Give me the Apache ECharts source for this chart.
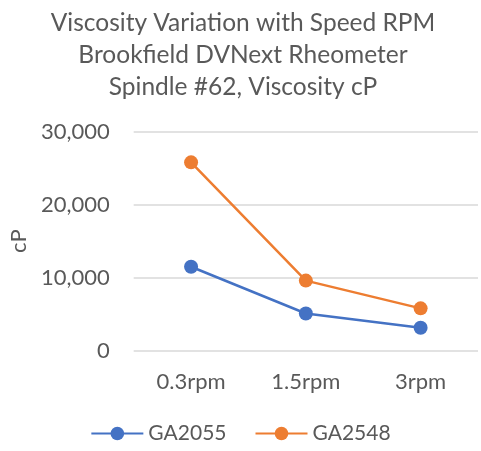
<!DOCTYPE html>
<html>
<head>
<meta charset="utf-8">
<script src="https://cdn.jsdelivr.net/npm/echarts@6/dist/echarts.min.js"></script>
<style>
  html, body { margin: 0; padding: 0; background: #fff; }
  #chart { width: 481px; height: 451px; }
</style>
</head>
<body>
<div id="chart"></div>
<script>
  // values
  const categories = ['0.3rpm', '1.5rpm', '3rpm'];
  const ga2055 = [11500, 5100, 3150];
  const ga2548 = [25800, 9600, 5800];
  const yTicks = [0, 10000, 20000, 30000];

  const textColor = '#595959';
  const font = 'Lato';

  const chart = echarts.init(document.getElementById('chart'));
  const option = {
    animation: false,
    title: {
      text: 'Viscosity Variation with Speed RPM\nBrookfield DVNext Rheometer\nSpindle #62, Viscosity cP',
      left: 238,
      textAlign: 'center',
      top: 2,
      textStyle: {
        color: textColor,
        fontFamily: font,
        fontWeight: 'normal',
        fontSize: 24.5,
        lineHeight: 32
      }
    },
    grid: {
      left: 132,
      right: 3,
      top: 131.7,
      bottom: 100.3
    },
    legend: {
      bottom: 2,
      left: 'center',
      itemWidth: 52,
      itemHeight: 17,
      itemGap: 28,
      textStyle: {
        color: textColor,
        fontFamily: font,
        fontSize: 21
      },
      data: ['GA2055', 'GA2548']
    },
    xAxis: {
      type: 'category',
      data: categories,
      axisLine: { show: false },
      axisTick: { show: false },
      axisLabel: {
        color: textColor,
        fontFamily: font,
        fontSize: 22,
        margin: 20
      }
    },
    yAxis: {
      type: 'value',
      min: yTicks[0],
      max: yTicks[yTicks.length - 1],
      interval: 10000,
      name: 'cP',
      nameLocation: 'middle',
      nameGap: 96,
      nameTextStyle: {
        color: textColor,
        fontFamily: font,
        fontSize: 22
      },
      axisLine: { show: false },
      axisTick: { show: false },
      splitLine: { lineStyle: { color: '#d9d9d9', width: 1.5 } },
      axisLabel: {
        color: textColor,
        fontFamily: font,
        fontSize: 22,
        margin: 24,
        formatter: function (v) { return v.toLocaleString('en-US'); }
      }
    },
    series: [
      {
        name: 'GA2055',
        type: 'line',
        data: ga2055,
        symbol: 'circle',
        symbolSize: 14,
        itemStyle: { color: '#4472c4' },
        lineStyle: { color: '#4472c4', width: 2.5 }
      },
      {
        name: 'GA2548',
        type: 'line',
        data: ga2548,
        symbol: 'circle',
        symbolSize: 14,
        itemStyle: { color: '#ed7d31' },
        lineStyle: { color: '#ed7d31', width: 2.5 }
      }
    ]
  };
  chart.setOption(option);
</script>
</body>
</html>
